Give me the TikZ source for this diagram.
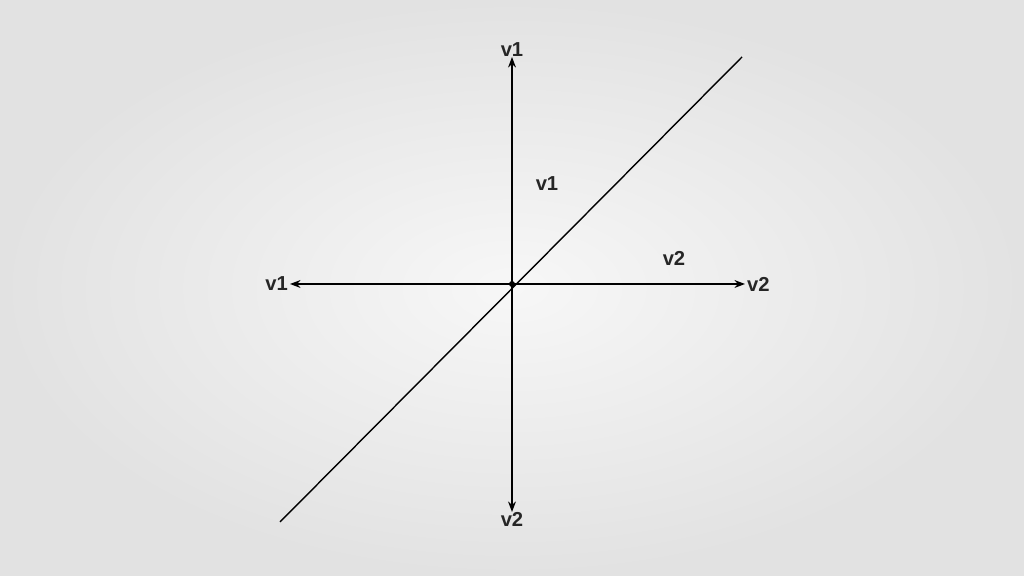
\documentclass[tikz,border=0pt]{standalone}
\usepackage{fontspec}
\setmainfont{Liberation Sans}
\usetikzlibrary{arrows.meta,positioning}
\definecolor{bgedge}{RGB}{226,226,226}
\definecolor{bgmid}{RGB}{247,247,247}
\tikzset{
  axis/.style={line width=0.8pt,{Stealth[length=6pt,width=4.5pt]}-{Stealth[length=6pt,width=4.5pt]}},
  lab/.style={font=\fontsize{11.5}{13}\selectfont\bfseries,text=black!85,inner sep=1pt}
}
\begin{document}
\begin{tikzpicture}[x=2cm,y=2cm]
\shade[inner color=bgmid,outer color=bgedge] (0,0) rectangle (10.24,5.76);
\useasboundingbox (0,0) rectangle (10.24,5.76);
\coordinate (o) at (5.12,2.92);
\coordinate (top) at (5.12,5.19);
\coordinate (bot) at (5.12,0.64);
\coordinate (lft) at (2.90,2.92);
\coordinate (rgt) at (7.45,2.92);
\coordinate (dlo) at (2.80,0.54);
\coordinate (dhi) at (7.42,5.19);
\draw[axis] (bot) -- (top);
\draw[axis] (lft) -- (rgt);
\draw[line width=0.8pt] (dlo) -- (dhi);
\fill (o) circle (0.03);
\node[lab,above=-1pt of top] (ltop) {v1};
\node[lab,below=-1pt of bot] (lbot) {v2};
\node[lab,left=0pt of lft] (llft) {v1};
\node[lab,right=0pt of rgt] (lrgt) {v2};
\node[lab] (lin1) at (5.47,3.92) {v1};
\node[lab] (lin2) at (6.74,3.18) {v2};
\end{tikzpicture}
\end{document}
